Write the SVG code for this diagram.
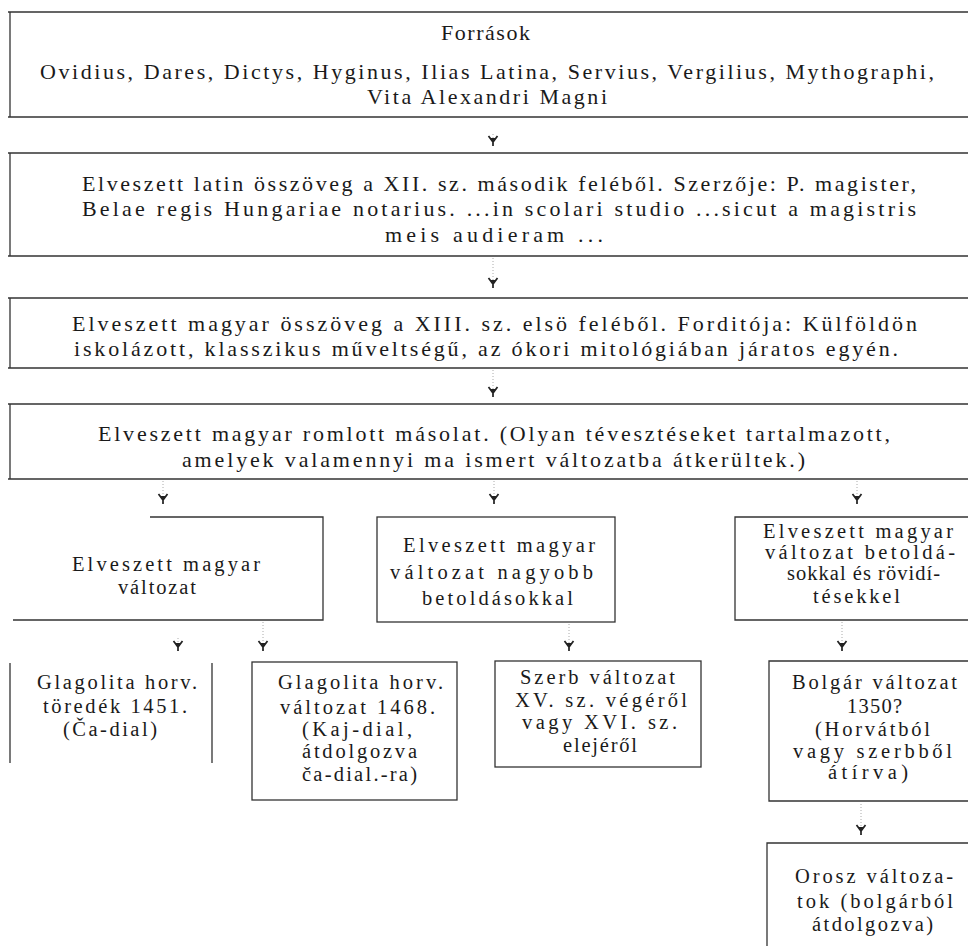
<svg xmlns="http://www.w3.org/2000/svg" width="968" height="946" viewBox="0 0 968 946">
<style>
.t{font-family:"Liberation Serif","DejaVu Serif",serif;font-size:22px;fill:#1a1a1a}
.s{font-size:20.5px}
.b{stroke:#333;stroke-width:1.3;fill:none}
.c{stroke:#aaa;stroke-width:1;stroke-dasharray:1 2;fill:none}
</style>
<defs>
<marker id="y" viewBox="-12 -6 14 12" refX="0" refY="0" markerWidth="14" markerHeight="12" markerUnits="userSpaceOnUse" orient="auto">
<path d="M-10,-4.5 L-4,0 L-10,4.5 M-4,0 L0,0" stroke="#222" stroke-width="1.7" fill="none"/>
<path d="M-8,-2.5 L-4,0 L-8,2.5 Z" fill="#222"/>
</marker>
</defs>
<rect width="968" height="946" fill="#fff"/>
<g id="connectors">
<path class="c" d="M493,134 V146" marker-end="url(#y)"/>
<path class="c" d="M493,258 V288" marker-end="url(#y)"/>
<path class="c" d="M493,370 V397" marker-end="url(#y)"/>
<path class="c" d="M163,481 V504" marker-end="url(#y)"/>
<path class="c" d="M494,481 V504" marker-end="url(#y)"/>
<path class="c" d="M857,481 V504" marker-end="url(#y)"/>
<path class="c" d="M178,638 V651" marker-end="url(#y)"/>
<path class="c" d="M263,622 V651" marker-end="url(#y)"/>
<path class="c" d="M569,624 V651" marker-end="url(#y)"/>
<path class="c" d="M842,622 V651" marker-end="url(#y)"/>
<path class="c" d="M861,804 V835" marker-end="url(#y)"/>
</g>
<g id="forrasok">
<path class="b" d="M8,12 H968 M8,117 H968 M10,12 V117"/>
<text class="t" x="441" y="40" textLength="89" lengthAdjust="spacing">Források</text>
<text class="t" x="40" y="79" textLength="894" lengthAdjust="spacing">Ovidius, Dares, Dictys, Hyginus, Ilias Latina, Servius, Vergilius, Mythographi,</text>
<text class="t" x="367" y="104" textLength="240" lengthAdjust="spacing">Vita Alexandri Magni</text>
</g>
<g id="latin">
<path class="b" d="M8,153 H968 M8,256 H968 M10,153 V256"/>
<text class="t" x="82" y="191" textLength="834" lengthAdjust="spacing">Elveszett latin összöveg a XII. sz. második feléből. Szerzője: P. magister,</text>
<text class="t" x="82" y="216" textLength="834" lengthAdjust="spacing">Belae regis Hungariae notarius. ...in scolari studio ...sicut a magistris</text>
<text class="t" x="385" y="242" textLength="218" lengthAdjust="spacing">meis audieram ...</text>
</g>
<g id="magyar">
<path class="b" d="M8,298 H968 M8,368 H968 M10,298 V368"/>
<text class="t" x="72" y="331" textLength="845" lengthAdjust="spacing">Elveszett magyar összöveg a XIII. sz. elsö feléből. Forditója: Külföldön</text>
<text class="t" x="74" y="356" textLength="824" lengthAdjust="spacing">iskolázott, klasszikus műveltségű, az ókori mitológiában járatos egyén.</text>
</g>
<g id="romlott">
<path class="b" d="M8,404 H968 M8,479 H968 M10,404 V479"/>
<text class="t" x="98" y="441" textLength="792" lengthAdjust="spacing">Elveszett magyar romlott másolat. (Olyan tévesztéseket tartalmazott,</text>
<text class="t" x="182" y="467" textLength="623" lengthAdjust="spacing">amelyek valamennyi ma ismert változatba átkerültek.)</text>
</g>
<g id="valtozat">
<path class="b" d="M150,517 H323 V620 H13"/>
<text class="t s" x="72" y="571" textLength="188" lengthAdjust="spacing">Elveszett magyar</text>
<text class="t s" x="118" y="594" textLength="78" lengthAdjust="spacing">változat</text>
</g>
<g id="nagyobb">
<rect class="b" x="377" y="517" width="238" height="105"/>
<text class="t s" x="403" y="552" textLength="192" lengthAdjust="spacing">Elveszett magyar</text>
<text class="t s" x="390" y="579" textLength="203" lengthAdjust="spacing">változat nagyobb</text>
<text class="t s" x="422" y="605" textLength="151" lengthAdjust="spacing">betoldásokkal</text>
</g>
<g id="rovidites">
<path class="b" d="M968,517 H735 V620 H968"/>
<text class="t s" x="763" y="538" textLength="190" lengthAdjust="spacing">Elveszett magyar</text>
<text class="t s" x="765" y="559" textLength="190" lengthAdjust="spacing">változat betoldá-</text>
<text class="t s" x="787" y="580" textLength="153" lengthAdjust="spacing">sokkal és rövidí-</text>
<text class="t s" x="813" y="603" textLength="87" lengthAdjust="spacing">tésekkel</text>
</g>
<g id="toredek">
<path class="b" d="M10,663 V763 M212,663 V763"/>
<text class="t s" x="37" y="689" textLength="160" lengthAdjust="spacing">Glagolita horv.</text>
<text class="t s" x="43" y="713" textLength="144" lengthAdjust="spacing">töredék 1451.</text>
<text class="t s" x="63" y="736" textLength="94" lengthAdjust="spacing">(Ča-dial)</text>
</g>
<g id="glagolita1468">
<rect class="b" x="252" y="662" width="205" height="138"/>
<text class="t s" x="278" y="689" textLength="165" lengthAdjust="spacing">Glagolita horv.</text>
<text class="t s" x="280" y="714" textLength="155" lengthAdjust="spacing">változat 1468.</text>
<text class="t s" x="302" y="736" textLength="110" lengthAdjust="spacing">(Kaj-dial,</text>
<text class="t s" x="302" y="758" textLength="115" lengthAdjust="spacing">átdolgozva</text>
<text class="t s" x="302" y="781" textLength="115" lengthAdjust="spacing">ča-dial.-ra)</text>
</g>
<g id="szerb">
<rect class="b" x="495" y="661" width="206" height="106"/>
<text class="t s" x="520" y="684" textLength="155" lengthAdjust="spacing">Szerb változat</text>
<text class="t s" x="515" y="707" textLength="172" lengthAdjust="spacing">XV. sz. végéről</text>
<text class="t s" x="522" y="729" textLength="155" lengthAdjust="spacing">vagy XVI. sz.</text>
<text class="t s" x="563" y="752" textLength="74" lengthAdjust="spacing">elejéről</text>
</g>
<g id="bolgar">
<path class="b" d="M968,661 H769 V801 H968"/>
<text class="t s" x="792" y="689" textLength="165" lengthAdjust="spacing">Bolgár változat</text>
<text class="t s" x="847" y="713" textLength="55" lengthAdjust="spacing">1350?</text>
<text class="t s" x="815" y="736" textLength="115" lengthAdjust="spacing">(Horvátból</text>
<text class="t s" x="793" y="758" textLength="159" lengthAdjust="spacing">vagy szerbből</text>
<text class="t s" x="828" y="779" textLength="80" lengthAdjust="spacing">átírva)</text>
</g>
<g id="orosz">
<path class="b" d="M968,843 H767 V946"/>
<text class="t s" x="795" y="883" textLength="158" lengthAdjust="spacing">Orosz változa-</text>
<text class="t s" x="797" y="908" textLength="156" lengthAdjust="spacing">tok (bolgárból</text>
<text class="t s" x="812" y="931" textLength="121" lengthAdjust="spacing">átdolgozva)</text>
</g>
</svg>
